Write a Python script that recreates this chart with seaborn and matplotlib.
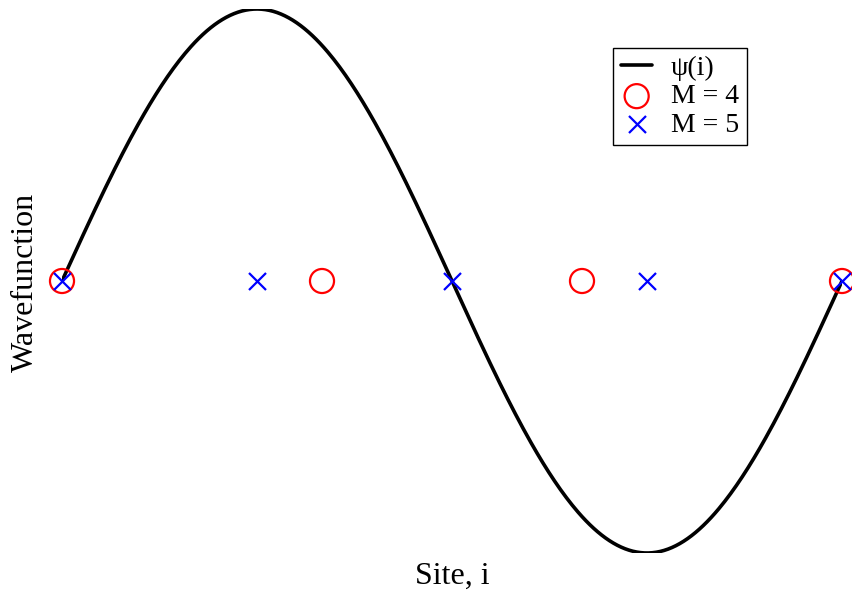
import numpy as np
import pandas as pd
import matplotlib
matplotlib.use("Agg")
import matplotlib.pyplot as plt
import seaborn as sns

# Continuous wavefunction psi(i) = sin(pi * i / 2) on a chain of length 4
n_sites = 4.0
x_curve = np.linspace(0.0, n_sites, 400)
psi = np.sin(np.pi * x_curve / n_sites * 2)

# Discrete lattice sites for two chain sizes (all on the zero line)
sites_m4 = [0.0, 4.0 / 3.0, 8.0 / 3.0, 4.0]
vals_m4 = [0.0, 0.0, 0.0, 0.0]
sites_m5 = [0.0, 1.0, 2.0, 3.0, 4.0]
vals_m5 = [0.0, 0.0, 0.0, 0.0, 0.0]

sns.set_theme(style="white")
plt.rcParams["font.family"] = ["Liberation Serif", "DejaVu Serif"]
plt.rcParams["text.color"] = "black"

fig = plt.figure(figsize=(8.52, 5.93), dpi=100)
ax = fig.add_axes([62 / 852, 1 - 553 / 593, 780 / 852, 544 / 593])

curve = pd.DataFrame({"i": x_curve, "psi": psi})
sns.lineplot(data=curve, x="i", y="psi", ax=ax, color="black", linewidth=2.6,
             label="ψ(i)")

m4 = pd.DataFrame({"i": sites_m4, "v": vals_m4})
sns.scatterplot(data=m4, x="i", y="v", ax=ax, marker="o", s=300,
                facecolors="none", edgecolor="red", linewidth=1.6,
                label="M = 4", clip_on=False, zorder=3)

m5 = pd.DataFrame({"i": sites_m5, "v": vals_m5})
sns.scatterplot(data=m5, x="i", y="v", ax=ax, marker="x", s=150,
                color="blue", linewidth=1.6, label="M = 5",
                clip_on=False, zorder=4)

ax.set_xlim(0, n_sites)
ax.set_ylim(-1, 1)
ax.set_xticks([])
ax.set_yticks([])
for sp in ax.spines.values():
    sp.set_visible(False)
ax.set_xlabel("")
ax.set_ylabel("")

fig.text(452 / 852, 1 - 576 / 593, "Site, i", ha="center", va="center",
         fontsize=23, color="black")
fig.text(25 / 852, 1 - 282 / 593, "Wavefunction", ha="center", va="center",
         rotation=90, fontsize=23, color="black")

leg = ax.legend(loc="upper right", bbox_to_anchor=(747 / 852, 1 - 48 / 593),
                bbox_transform=fig.transFigure, fontsize=20, frameon=True,
                fancybox=False, edgecolor="black", framealpha=1,
                labelspacing=0.1, handlelength=1.12, handletextpad=0.68,
                borderpad=0.28, borderaxespad=0, labelcolor="black")
leg.get_frame().set_linewidth(1.0)

fig.savefig("out.png", dpi=100)
